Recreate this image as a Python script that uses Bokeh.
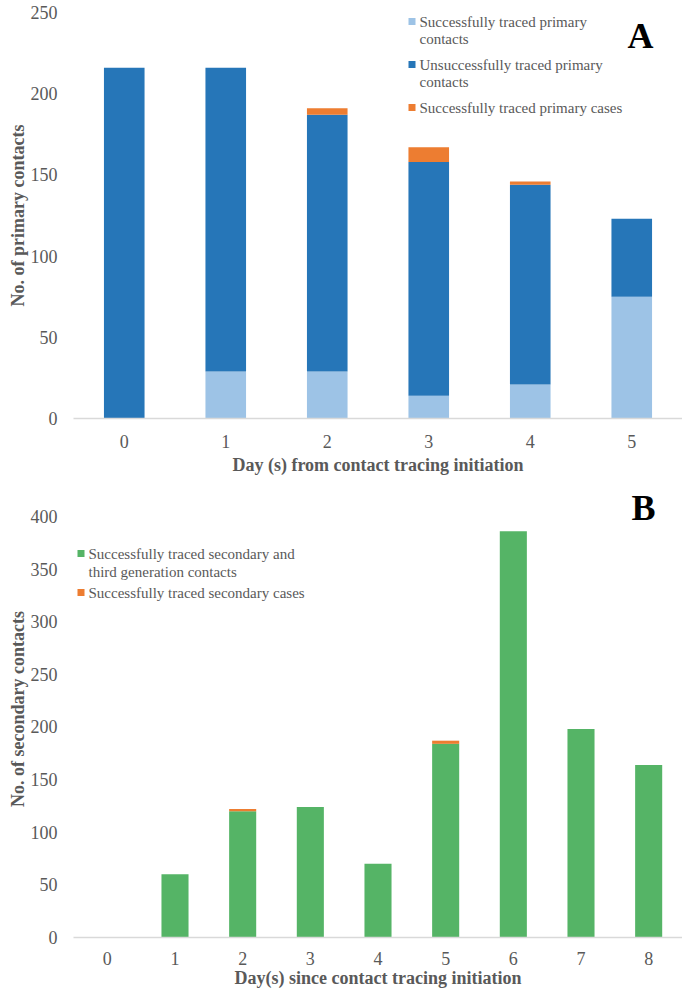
from bokeh.plotting import figure
from bokeh.layouts import column
from bokeh.models import ColumnDataSource, Range1d, FixedTicker, Label, BoxAnnotation
from bokeh.embed import file_html
from bokeh.resources import INLINE

# ---------------- data ----------------
days_a = [0, 1, 2, 3, 4, 5]
a_traced_contacts = [0, 29, 29, 14, 21, 75]
a_untraced_contacts = [216, 187, 158, 144, 123, 48]
a_traced_cases = [0, 0, 4, 9, 2, 0]
a_ticks = [0, 50, 100, 150, 200, 250]

days_b = [0, 1, 2, 3, 4, 5, 6, 7, 8]
b_contacts = [0, 60, 120, 124, 70, 184, 386, 198, 164]
b_cases = [0, 0, 2, 0, 0, 3, 0, 0, 0]
b_ticks = [0, 50, 100, 150, 200, 250, 300, 350, 400]

legend_a = [
    ["Successfully traced primary", "contacts"],
    ["Unsuccessfully traced primary", "contacts"],
    ["Successfully traced primary cases"],
]
legend_b = [
    ["Successfully traced secondary and", "third generation contacts"],
    ["Successfully traced secondary cases"],
]

C_LIGHT = "#9DC3E6"
C_DARK = "#2676B8"
C_ORANGE = "#ED7D31"
C_GREEN = "#55B466"
FONT = "Liberation Serif"
GREY = "#595959"


def style(p, ticks_x, ticks_y, xlabel, ylabel, x_std, x_title_std):
    p.xgrid.visible = False
    p.ygrid.visible = False
    p.outline_line_color = None
    p.xaxis.ticker = FixedTicker(ticks=ticks_x)
    p.yaxis.ticker = FixedTicker(ticks=ticks_y)
    for ax in (p.xaxis[0], p.yaxis[0]):
        ax.major_tick_line_color = None
        ax.minor_tick_line_color = None
        ax.major_label_text_font = FONT
        ax.major_label_text_font_size = "18px"
        ax.major_label_text_color = GREY
        ax.axis_label_text_font = FONT
        ax.axis_label_text_font_size = "18px"
        ax.axis_label_text_font_style = "bold"
        ax.axis_label_text_color = GREY
    p.xaxis.axis_line_color = "#D9D9D9"
    p.xaxis.axis_line_width = 1.5
    p.yaxis.axis_line_color = None
    p.xaxis.axis_label = xlabel
    p.yaxis.axis_label = ylabel
    p.xaxis.major_label_standoff = x_std
    p.xaxis.axis_label_standoff = x_title_std
    p.yaxis.major_label_standoff = 10
    p.yaxis.axis_label_standoff = 0


def add_legend(p, x0, y_first, entries, colors, line_gap, entry_gap):
    y = y_first
    for lines, col in zip(entries, colors):
        p.add_layout(BoxAnnotation(left=x0, right=x0 + 7, bottom=y - 3.5, top=y + 3.5,
                                   left_units="screen", right_units="screen",
                                   bottom_units="screen", top_units="screen",
                                   fill_color=col, fill_alpha=1, line_color=None))
        for i, t in enumerate(lines):
            p.add_layout(Label(x=x0 + 11, y=y - line_gap * i, x_units="screen", y_units="screen",
                               text=t, text_font=FONT, text_font_size="15px",
                               text_color=GREY, text_baseline="middle", text_align="left"))
        y -= line_gap * (len(lines) - 1) + entry_gap


# ---------------- panel A ----------------
src_a = ColumnDataSource(dict(x=days_a, t=a_traced_contacts, u=a_untraced_contacts, c=a_traced_cases))
pA = figure(width=682, height=477, output_backend="svg", toolbar_location=None,
            x_range=Range1d(-0.5, 5.5), y_range=Range1d(0, 250),
            min_border_left=73, min_border_right=0, min_border_top=12, min_border_bottom=58)
pA.vbar_stack(["t", "u", "c"], x="x", width=0.4, source=src_a,
              color=[C_LIGHT, C_DARK, C_ORANGE], line_color=None)
style(pA, days_a, a_ticks, "Day (s) from contact tracing initiation", "No. of primary contacts", 10, 4)
add_legend(pA, 335, 397, legend_a, [C_LIGHT, C_DARK, C_ORANGE], 17, 26)
pA.add_layout(Label(x=567, y=383, x_units="screen", y_units="screen", text="A",
                    text_font=FONT, text_font_size="36px", text_font_style="bold",
                    text_color="black", text_align="center", text_baseline="middle"))

# ---------------- panel B ----------------
src_b = ColumnDataSource(dict(x=days_b, g=b_contacts, c=b_cases))
pB = figure(width=682, height=513, output_backend="svg", toolbar_location=None,
            x_range=Range1d(-0.5, 8.5), y_range=Range1d(0, 434.2),
            min_border_left=73, min_border_right=0, min_border_top=3, min_border_bottom=50)
pB.vbar_stack(["g", "c"], x="x", width=0.4, source=src_b,
              color=[C_GREEN, C_ORANGE], line_color=None)
style(pB, days_b, b_ticks, "Day(s) since contact tracing initiation", "No. of secondary contacts", 8, 0)
add_legend(pB, 4, 384, legend_b, [C_GREEN, C_ORANGE], 18, 21)
pB.add_layout(Label(x=570, y=430, x_units="screen", y_units="screen", text="B",
                    text_font=FONT, text_font_size="36px", text_font_style="bold",
                    text_color="black", text_align="center", text_baseline="middle"))

layout = column(pA, pB)
open("out.html", "w").write(file_html(layout, INLINE))
